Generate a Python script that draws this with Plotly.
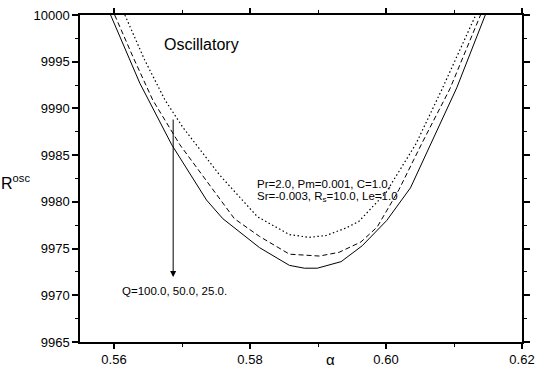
import plotly.graph_objects as go

# Data
alpha_q100 = [0.5616, 0.5645, 0.5675, 0.5701, 0.5755, 0.5811, 0.5858, 0.5887, 0.5912, 0.5941, 0.5960, 0.6000, 0.6044, 0.6082, 0.6132]
r_q100 = [10000.0, 9995.2, 9990.9, 9988.0, 9982.9, 9978.4, 9976.5, 9976.2, 9976.4, 9977.2, 9977.9, 9981.0, 9986.2, 9992.0, 10000.0]

alpha_q50 = [0.5601, 0.5628, 0.5657, 0.5697, 0.5777, 0.5814, 0.5858, 0.5902, 0.5931, 0.5963, 0.5987, 0.6019, 0.6053, 0.6094, 0.6139]
r_q50 = [10000.0, 9995.5, 9990.9, 9986.1, 9978.2, 9976.3, 9974.4, 9974.2, 9974.6, 9975.7, 9977.3, 9981.3, 9986.3, 9992.1, 10000.0]

alpha_q25 = [0.5595, 0.5638, 0.5685, 0.5736, 0.5760, 0.5814, 0.5858, 0.5880, 0.5899, 0.5934, 0.5965, 0.6001, 0.6036, 0.6067, 0.6104, 0.6146]
r_q25 = [10000.0, 9992.7, 9986.1, 9980.2, 9978.2, 9975.1, 9973.2, 9972.9, 9972.9, 9973.6, 9975.3, 9978.0, 9981.5, 9986.4, 9992.2, 10000.0]

x_ticks = [0.56, 0.58, 0.60, 0.62]
x_ticklabels = ["0.56", "0.58", "0.60", "0.62"]
y_ticks = [9965, 9970, 9975, 9980, 9985, 9990, 9995, 10000]
y_ticklabels = ["9965", "9970", "9975", "9980", "9985", "9990", "9995", "10000"]

FONT = "Liberation Sans, Arial, sans-serif"

fig = go.Figure()
fig.add_trace(go.Scatter(x=alpha_q100, y=r_q100, mode="lines", name="Q=100.0",
                         line=dict(color="black", width=1.2, dash="1.5px,2.5px")))
fig.add_trace(go.Scatter(x=alpha_q50, y=r_q50, mode="lines", name="Q=50.0",
                         line=dict(color="black", width=1, dash="5px,3px")))
fig.add_trace(go.Scatter(x=alpha_q25, y=r_q25, mode="lines", name="Q=25.0",
                         line=dict(color="black", width=1)))

fig.update_layout(
    width=539, height=369,
    margin=dict(l=80, r=17, t=15, b=27),
    paper_bgcolor="white", plot_bgcolor="white",
    showlegend=False,
    font=dict(family=FONT, color="black", size=13),
    xaxis=dict(range=[0.555, 0.62], tickvals=x_ticks, ticktext=x_ticklabels,
               automargin=False,
               showgrid=False, zeroline=False, showline=True, linecolor="black",
               linewidth=1.5, mirror="ticks", ticks="outside", ticklen=5,
               tickwidth=1.5, tickcolor="black",
               minor=dict(dtick=0.01, tick0=0.56, ticks="outside", ticklen=3,
                          tickwidth=1, tickcolor="black"),
               tickfont=dict(size=13)),
    yaxis=dict(range=[9965, 10000], tickvals=y_ticks, ticktext=y_ticklabels,
               automargin=False,
               showgrid=False, zeroline=False, showline=True, linecolor="black",
               linewidth=1.5, mirror="ticks", ticks="outside", ticklen=6,
               tickwidth=1.5, tickcolor="black",
               minor=dict(dtick=2.5, tick0=9965, ticks="outside", ticklen=3,
                          tickwidth=1, tickcolor="black"),
               tickfont=dict(size=13)),
)

annotations = [
    dict(x=0.5671, y=9996.8, xref="x", yref="y", text="Oscillatory", showarrow=False,
         xanchor="left", yanchor="middle", font=dict(size=16)),
    dict(x=0.5807, y=9981.9, xref="x", yref="y", text="Pr=2.0, Pm=0.001, C=1.0,",
         showarrow=False, xanchor="left", yanchor="middle", font=dict(size=11.5)),
    dict(x=0.5807, y=9980.5, xref="x", yref="y",
         text="Sr=-0.003, R<sub>s</sub>=10.0, Le=1.0",
         showarrow=False, xanchor="left", yanchor="middle", font=dict(size=11.5)),
    dict(x=0.5609, y=9970.45, xref="x", yref="y", text="Q=100.0, 50.0, 25.0.",
         showarrow=False, xanchor="left", yanchor="middle", font=dict(size=11.5)),
    dict(x=0.5687, y=9971.95, xref="x", yref="y", ax=0.5687, ay=9988.97,
         axref="x", ayref="y", text="", showarrow=True, arrowhead=2,
         arrowsize=1.2, arrowwidth=1, arrowcolor="black"),
    dict(x=-0.145, y=0.49, xref="paper", yref="paper", text="R<sup>osc</sup>",
         showarrow=False, xanchor="center", yanchor="middle", font=dict(size=16)),
    dict(x=0.566, y=-0.052, xref="paper", yref="paper", text="α",
         showarrow=False, xanchor="center", yanchor="middle", font=dict(size=15)),
]
fig.update_layout(annotations=annotations)

fig.write_html("out.html",
               config={"displayModeBar": False},
               post_script="document.body.style.margin='0';document.body.style.padding='0';")
